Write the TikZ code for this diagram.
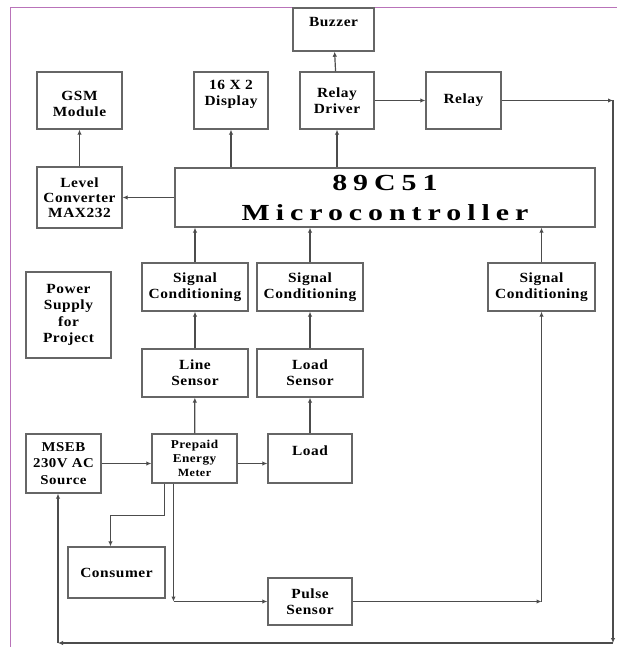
\documentclass[tikz,border=0pt]{standalone}
\usepackage{fontspec}
\setmainfont{Liberation Serif}
\newfontfamily\wideserif[FakeStretch=1.3, LetterSpace=26]{Liberation Serif}
\newfontfamily\boxserif[FakeStretch=1.1, LetterSpace=4]{Liberation Serif}
\usetikzlibrary{arrows.meta}

\tikzset{
  block/.style={draw=black!60, line width=1.4pt, fill=white, align=center,
    inner sep=1pt, text=black, font=\boxserif\bfseries\fontsize{14}{16}\selectfont},
  link/.style={draw=black!70, line width=1.2pt},
}

\begin{document}
\begin{tikzpicture}[x=1pt, y=-1pt, >={Latex[length=5pt,width=4.5pt]}]
  \useasboundingbox (0,0) rectangle (617,647);
  \draw[violet!55, line width=1pt] (10,647) -- (10,8) -- (617,8);

  % top row
  \node[block, minimum width=81, minimum height=43] (buzzer) at (333.5,29.5) {Buzzer\\~};
  \node[block, minimum width=85, minimum height=57] (gsm) at (79.5,100.5) {~\\GSM\\Module};
  \node[block, minimum width=74, minimum height=57] (display) at (231,100.5) {16 X 2\\Display\\~};
  \node[block, minimum width=74, minimum height=57] (driver) at (337,100.5) {Relay\\Driver};
  \node[block, minimum width=75, minimum height=57] (relay) at (463.5,100.5) {Relay};

  % controller row
  \node[block, minimum width=85, minimum height=61,
    font=\boxserif\bfseries\fontsize{14}{15}\selectfont] (level) at (79.5,197.5) {Level\\Converter\\MAX232};
  \node[block, minimum width=420, minimum height=59, inner sep=0pt,
    font=\wideserif\bfseries\fontsize{23}{30}\selectfont] (micro) at (385,197.5) {89C51\\Microcontroller};

  % sensing
  \node[block, minimum width=106, minimum height=48] (sc1) at (195,287) {Signal\\Conditioning};
  \node[block, minimum width=106, minimum height=48] (sc2) at (310,287) {Signal\\Conditioning};
  \node[block, minimum width=107, minimum height=48] (sc3) at (541.5,287) {Signal\\Conditioning};
  \node[block, minimum width=85, minimum height=86,
    font=\boxserif\bfseries\fontsize{14}{16.5}\selectfont] (power) at (68.5,315) {Power\\Supply\\for\\Project};
  \node[block, minimum width=106, minimum height=48] (line) at (195,373) {Line\\Sensor};
  \node[block, minimum width=106, minimum height=48] (loadsensor) at (310,373) {Load\\Sensor};

  % mains side
  \node[block, minimum width=75, minimum height=59,
    font=\boxserif\bfseries\fontsize{13.5}{16.5}\selectfont] (mseb) at (63.5,463.5) {MSEB\\230V AC\\Source};
  \node[block, minimum width=85, minimum height=49,
    font=\boxserif\bfseries\fontsize{12}{14}\selectfont] (meter) at (194.5,458.5)
    {Prepaid\\Energy\\{\fontsize{11}{13}\selectfont Meter}};
  \node[block, minimum width=84, minimum height=49] (load) at (310,458.5) {Load\\~};
  \node[block, minimum width=97, minimum height=51] (consumer) at (116.5,572.5) {Consumer};
  \node[block, minimum width=84, minimum height=47] (pulse) at (310,601.5) {Pulse\\Sensor};

  % outputs
  \draw[link,->] (level) -- (gsm);
  \draw[link,->] (micro) -- (level);
  \draw[link,->] (micro.north -| display) -- (display);
  \draw[link,->] (micro.north -| driver) -- (driver);
  \draw[link,->] (driver) -- (buzzer);
  \draw[link,->] (driver) -- (relay);

  % relay back to the mains
  \coordinate (ne) at (613,100.5);
  \coordinate (se) at (613,643);
  \coordinate (sw) at (58,643);
  \draw[link,->] (relay) -- (ne);
  \draw[link,->] (ne) -- (se);
  \draw[link,->] (se) -- (sw);
  \draw[link,->] (sw) -- (sw |- mseb.south);

  % inputs
  \foreach \s in {sc1,sc2,sc3}
    \draw[link,->] (\s) -- (\s |- micro.south);
  \draw[link,->] (line) -- (sc1);
  \draw[link,->] (loadsensor) -- (sc2);
  \draw[link,->] (meter) -- (line);
  \draw[link,->] (load) -- (loadsensor);
  \draw[link,->] (mseb) -- (mseb -| meter.west);
  \draw[link,->] (mseb -| meter.east) -- (mseb -| load.west);
  \draw[link,->] ([xshift=-30]meter.south) -- ++(0,32) -| ([xshift=-6]consumer.north);
  \coordinate (drop) at ([xshift=-21]meter.south);
  \draw[link,->] (drop) -- (drop |- pulse.west);
  \draw[link,->] (drop |- pulse.west) -- (pulse.west);
  \draw[link,->] (pulse) -- (pulse -| sc3);
  \draw[link,->] (pulse -| sc3) -- (sc3);
\end{tikzpicture}
\end{document}
